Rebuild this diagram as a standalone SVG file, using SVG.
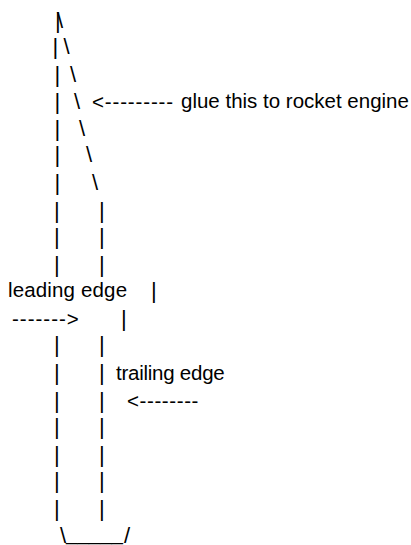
<svg xmlns="http://www.w3.org/2000/svg" width="411" height="545" viewBox="0 0 411 545">
<style>text{font-family:"Liberation Sans",Arial,sans-serif;font-size:20.5px;fill:#000}.g{font-size:22px}</style>
<rect width="411" height="545" fill="#fff"/>
<text class="g" x="55" y="28">|</text><text class="g" x="57" y="28" font-size="22">\</text>
<text class="g" x="52.5" y="54">|</text><text class="g" x="63.5" y="54">\</text>
<text class="g" x="54.5" y="82">|</text><text class="g" x="70" y="82">\</text>
<text class="g" x="54.5" y="109">|</text><text class="g" x="74" y="109">\</text>
<text x="92" y="109" letter-spacing="0.85">&lt;---------</text><text x="181" y="108">glue this to rocket engine</text>
<text class="g" x="54.5" y="136">|</text><text class="g" x="79" y="136">\</text>
<text class="g" x="54.5" y="162">|</text><text class="g" x="86" y="162">\</text>
<text class="g" x="54.5" y="190">|</text><text class="g" x="92" y="190">\</text>
<text class="g" x="54" y="218">|</text><text class="g" x="99" y="218">|</text>
<text class="g" x="54" y="244">|</text><text class="g" x="99" y="244">|</text>
<text class="g" x="54" y="272">|</text><text class="g" x="99" y="272">|</text>
<text x="8" y="297" letter-spacing="0.15">leading edge</text><text class="g" x="151" y="298">|</text>
<text x="12" y="326" letter-spacing="1">-------&gt;</text><text class="g" x="121" y="326">|</text>
<text class="g" x="54" y="352">|</text><text class="g" x="99" y="352">|</text>
<text class="g" x="54" y="380">|</text><text class="g" x="99" y="380">|</text><text x="116" y="380" letter-spacing="-0.25">trailing edge</text>
<text class="g" x="54" y="408">|</text><text class="g" x="99" y="408">|</text><text x="127" y="408" letter-spacing="0.6">&lt;--------</text>
<text class="g" x="54" y="434">|</text><text class="g" x="99" y="434">|</text>
<text class="g" x="54" y="462">|</text><text class="g" x="99" y="462">|</text>
<text class="g" x="54" y="488">|</text><text class="g" x="99" y="488">|</text>
<text class="g" x="54" y="516">|</text><text class="g" x="99" y="516">|</text>
<text class="g" x="60" y="543">\</text><text x="66" y="540">_____</text><text class="g" x="124" y="543">/</text>
</svg>
